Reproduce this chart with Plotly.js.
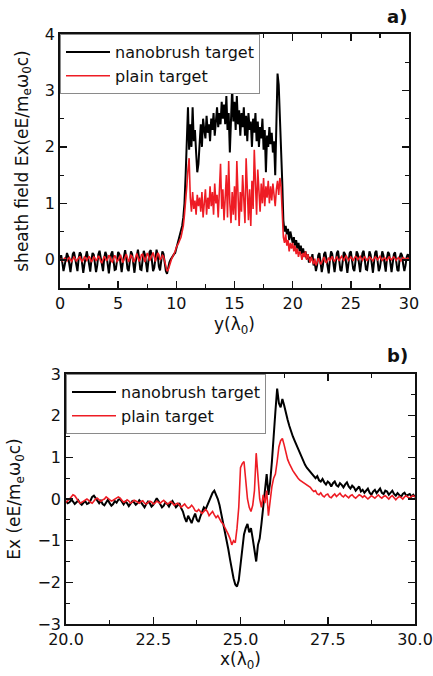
<!DOCTYPE html>
<html>
<head>
<meta charset="utf-8">
<script src="https://cdn.plot.ly/plotly-3.0.1.min.js"></script>
<style>html,body{margin:0;padding:0;background:#fff;}#chart{width:433px;height:676px;}</style>
</head>
<body>
<div id="chart"></div>
<script>
// ---------- Panel a: sheath field vs y (lambda0), sampled from y=0 to 30 every 0.1 ----------
const aStart = 0, aStep = 0.1;
const aNanobrush = [
 0.02,0.08,-0.05,-0.2,-0.1,0.05,0.12,0.06,-0.08,-0.22,
 -0.05,0.1,0.14,0.03,-0.15,-0.2,0.02,0.13,0.1,-0.06,
 -0.23,-0.08,0.08,0.15,0.05,-0.12,-0.21,0.0,0.12,0.09,
 -0.05,-0.22,-0.1,0.1,0.16,0.04,-0.15,-0.2,0.03,0.14,
 0.08,-0.08,-0.24,-0.06,0.1,0.15,0.02,-0.18,-0.17,0.05,
 0.14,0.1,-0.06,-0.22,-0.05,0.11,0.17,0.03,-0.16,-0.2,
 0.04,0.15,0.1,-0.08,-0.23,-0.04,0.12,0.18,0.02,-0.17,
 -0.18,0.06,0.16,0.09,-0.1,-0.22,-0.02,0.14,0.17,0.0,
 -0.2,-0.14,0.08,0.18,0.08,-0.12,-0.19,0.04,0.15,0.1,
 -0.08,-0.2,-0.25,-0.12,-0.05,0.0,0.04,0.08,0.1,0.12,
 0.2,0.3,0.35,0.45,0.5,0.6,0.75,1.0,1.5,2.1,
 2.7,1.95,2.4,2.0,2.7,2.1,2.3,1.9,1.55,1.7,
 2.2,2.4,2.0,2.5,2.3,2.15,2.55,2.25,2.4,2.1,
 2.5,2.3,2.6,2.2,2.45,2.7,2.35,2.6,2.4,2.8,
 2.5,2.75,2.4,2.9,2.3,2.6,1.9,2.5,3.05,2.45,
 2.8,2.3,2.9,2.4,2.65,2.2,2.6,2.35,2.7,2.2,
 2.55,2.1,2.6,2.3,2.45,2.0,2.5,2.25,2.6,2.1,
 2.45,2.0,2.35,2.15,2.5,1.95,2.3,1.55,2.2,2.0,
 2.35,2.05,2.25,1.9,2.1,1.5,2.4,3.3,3.1,2.6,
 2.2,1.4,0.7,0.5,0.6,0.45,0.55,0.35,0.5,0.4,
 0.3,0.4,0.25,0.35,0.2,0.3,0.15,0.25,0.1,0.2,
 0.05,0.15,0.02,0.1,-0.05,0.05,0.0,0.1,-0.1,-0.05,
 -0.2,-0.1,0.08,0.12,-0.05,-0.22,-0.1,0.1,0.14,0.0,
 -0.18,-0.24,0.0,0.15,0.1,-0.1,-0.22,-0.05,0.12,0.16,
 0.02,-0.18,-0.2,0.05,0.14,0.1,-0.08,-0.23,-0.06,0.12,
 0.15,0.03,-0.16,-0.2,0.04,0.15,0.1,-0.07,-0.22,-0.04,
 0.12,0.16,0.02,-0.17,-0.18,0.05,0.15,0.09,-0.1,-0.23,
 -0.03,0.13,0.16,0.0,-0.2,-0.14,0.07,0.15,0.08,-0.12,
 -0.21,0.02,0.14,0.1,-0.06,-0.22,-0.06,0.1,0.13,0.0,
 -0.18,-0.2,0.04,0.12,0.08,-0.08,-0.2,-0.1,0.05,0.1,
 0.02
];
const aPlain = [
 0.0,0.01,-0.02,0.0,0.03,0.01,-0.02,0.02,0.04,0.0,
 -0.03,0.01,0.05,0.02,-0.02,0.0,0.04,0.06,0.01,-0.03,
 0.0,0.05,0.03,-0.01,0.02,0.06,0.02,-0.04,0.0,0.05,
 0.03,-0.02,0.01,0.07,0.04,-0.03,-0.05,0.02,0.06,0.03,
 -0.02,0.01,0.08,0.05,-0.02,-0.04,0.03,0.08,0.04,-0.03,
 -0.01,0.06,0.09,0.02,-0.05,0.0,0.07,0.1,0.03,-0.04,
 0.02,0.08,0.06,-0.03,-0.02,0.06,0.11,0.05,-0.03,0.01,
 0.09,0.1,0.02,-0.04,0.04,0.12,0.08,-0.02,0.03,0.1,
 0.13,0.05,-0.03,0.05,0.12,0.09,0.0,0.02,0.08,0.06,
 -0.05,-0.15,-0.2,-0.18,-0.1,-0.03,0.02,0.06,0.1,0.15,
 0.22,0.25,0.3,0.35,0.4,0.5,0.6,0.8,1.0,1.3,
 1.6,1.8,1.1,0.85,1.2,0.9,1.05,0.8,1.15,0.95,
 1.1,0.85,1.2,0.75,1.0,1.25,0.8,1.1,0.9,1.3,
 0.95,1.2,0.8,1.35,1.0,1.15,0.75,1.4,1.7,0.9,
 1.25,0.7,1.1,1.5,0.75,1.75,1.0,0.65,1.2,0.8,
 1.3,0.7,1.75,1.0,0.6,1.2,0.85,1.5,0.9,0.65,
 1.8,1.0,0.7,1.25,0.6,1.4,0.9,1.95,1.3,0.8,
 1.6,1.05,0.85,1.35,1.0,1.45,0.95,1.3,1.1,1.4,
 1.0,1.3,1.05,1.35,1.1,0.95,1.25,1.4,1.15,1.45,
 1.3,0.8,0.4,0.3,0.45,0.25,0.35,0.15,0.3,0.2,
 0.3,0.15,0.25,0.1,0.2,0.05,0.15,0.1,0.0,0.12,
 0.05,0.15,0.0,0.1,0.02,-0.05,0.05,0.0,-0.08,0.02,
 -0.1,-0.05,0.03,-0.02,-0.08,-0.04,0.02,0.05,-0.03,-0.05,
 0.0,0.04,-0.02,0.03,0.06,0.0,-0.03,0.02,0.05,0.01,
 -0.02,0.03,0.06,0.02,-0.02,0.04,0.07,0.03,-0.01,0.02,
 0.05,0.02,-0.02,0.03,0.06,0.04,0.0,0.03,0.06,0.02,
 -0.01,0.03,0.05,0.02,-0.02,0.02,0.05,0.03,0.0,-0.02,
 0.02,0.05,0.03,0.0,0.03,0.06,0.02,-0.01,0.02,0.04,
 0.01,-0.02,0.03,0.05,0.02,0.0,0.03,0.05,0.02,-0.01,
 0.02,0.04,0.01,-0.02,0.02,0.04,0.02,0.0,0.02,0.03,
 0.0
];

// ---------- Panel b: Ex vs x (lambda0), sampled from x=20 to 30 every 0.05 ----------
const bStart = 20, bStep = 0.05;
const bNanobrush = [
 -0.05,-0.1,-0.08,-0.02,-0.06,-0.12,-0.08,-0.03,-0.1,-0.14,-0.09,-0.05,-0.12,-0.1,-0.04,0.05,0.08,0.02,-0.06,-0.1,
 -0.04,-0.12,-0.15,-0.08,-0.02,-0.1,-0.16,-0.12,-0.05,-0.09,-0.02,0.0,-0.08,-0.13,-0.06,-0.1,-0.17,-0.12,-0.05,-0.08,
 -0.14,-0.1,-0.03,-0.08,-0.15,-0.2,-0.12,-0.06,-0.1,-0.18,-0.14,-0.05,0.02,-0.05,-0.12,-0.2,-0.16,-0.08,-0.12,-0.18,
 -0.1,-0.05,-0.12,-0.2,-0.15,-0.1,-0.22,-0.3,-0.45,-0.55,-0.4,-0.5,-0.58,-0.45,-0.35,-0.5,-0.55,-0.42,-0.3,-0.2,
 -0.25,-0.15,-0.05,0.05,0.15,0.2,0.1,0.0,-0.15,-0.35,-0.55,-0.75,-0.95,-1.2,-1.45,-1.7,-1.9,-2.05,-2.1,-1.95,
 -1.6,-1.2,-0.85,-0.7,-0.6,-0.8,-0.7,-0.95,-1.2,-1.5,-1.1,-0.95,-0.6,-0.2,0.3,0.6,0.1,0.4,0.9,1.6,
 2.1,2.65,2.3,2.2,2.4,2.25,2.05,1.9,1.75,1.6,1.5,1.4,1.3,1.2,1.1,1.0,0.9,0.82,0.75,0.7,
 0.65,0.6,0.55,0.5,0.55,0.45,0.42,0.48,0.4,0.35,0.42,0.38,0.3,0.38,0.42,0.33,0.3,0.38,0.34,0.28,
 0.35,0.4,0.3,0.25,0.32,0.28,0.2,0.25,0.3,0.18,0.22,0.15,0.2,0.25,0.15,0.1,0.18,0.22,0.14,0.2,
 0.25,0.15,0.12,0.2,0.18,0.1,0.15,0.2,0.12,0.08,0.14,0.1,0.05,0.12,0.15,0.08,0.1,0.12,0.06,0.1,
 0.05
];
const bPlain = [
 -0.08,-0.05,0.0,0.05,0.1,0.08,0.02,-0.05,-0.1,-0.08,-0.05,-0.02,0.0,-0.03,-0.08,-0.1,-0.05,0.0,0.02,-0.03,
 -0.06,-0.02,0.0,0.05,0.02,-0.02,-0.05,-0.03,0.0,0.03,0.05,0.02,-0.04,-0.08,-0.06,-0.02,-0.05,-0.1,-0.07,-0.03,
 -0.05,-0.08,-0.1,-0.06,-0.04,-0.1,-0.12,-0.08,-0.05,-0.07,-0.12,-0.1,-0.05,-0.08,-0.1,-0.06,-0.03,-0.08,-0.12,-0.1,
 -0.06,-0.1,-0.15,-0.12,-0.1,-0.14,-0.2,-0.16,-0.12,-0.18,-0.22,-0.2,-0.15,-0.2,-0.28,-0.3,-0.25,-0.3,-0.35,-0.3,
 -0.25,-0.3,-0.4,-0.35,-0.3,-0.38,-0.45,-0.4,-0.48,-0.55,-0.6,-0.68,-0.75,-0.85,-0.95,-1.1,-1.0,-1.05,-0.7,-0.2,
 0.75,0.85,0.9,0.4,0.0,-0.2,-0.3,-0.15,0.2,1.1,0.5,0.0,-0.2,0.1,-0.1,0.2,-0.4,0.0,0.3,0.5,
 0.6,0.9,1.25,1.4,1.45,1.3,1.1,0.95,0.85,0.75,0.68,0.62,0.55,0.5,0.45,0.42,0.38,0.35,0.32,0.3,
 0.28,0.22,0.18,0.2,0.12,0.1,0.15,0.08,0.05,0.1,0.12,0.05,0.03,0.08,0.12,0.06,0.1,0.14,0.08,0.05,
 0.1,0.06,0.03,0.08,0.1,0.05,0.02,0.06,0.1,0.08,0.04,0.08,0.05,0.0,0.04,0.08,0.05,0.02,0.06,0.1,
 0.05,0.02,0.06,0.08,0.04,0.0,0.05,0.08,0.03,-0.02,0.03,0.06,0.04,0.0,0.05,0.08,0.04,0.02,0.06,0.08,
 0.05
];

const seriesNames = ['nanobrush target', 'plain target'];
const aXTicks = [0, 5, 10, 15, 20, 25, 30];
const bXTicks = [20, 22.5, 25, 27.5, 30];

function grid(start, step, n) {
  const out = [];
  for (let i = 0; i < n; i++) out.push(Math.round((start + i * step) * 1000) / 1000);
  return out;
}

// ---------- geometry (pixels) ----------
const W = 433, H = 676;
const M = {l: 60, r: 18, t: 34, b: 52};
const PW = W - M.l - M.r, PH = H - M.t - M.b;
const px = v => (v - M.l) / PW;
const py = v => (H - M.b - v) / PH;

const BLACK = '#000000', RED = '#ee1c24';
const FONT = 'DejaVu Sans, Arial, sans-serif';

const traces = [
  {x: grid(aStart, aStep, aNanobrush.length), y: aNanobrush, name: seriesNames[0], type: 'scatter', mode: 'lines',
   line: {color: BLACK, width: 2}, xaxis: 'x', yaxis: 'y', legend: 'legend'},
  {x: grid(aStart, aStep, aPlain.length), y: aPlain, name: seriesNames[1], type: 'scatter', mode: 'lines',
   line: {color: RED, width: 1.6}, xaxis: 'x', yaxis: 'y', legend: 'legend'},
  {x: grid(bStart, bStep, bNanobrush.length), y: bNanobrush, name: seriesNames[0], type: 'scatter', mode: 'lines',
   line: {color: BLACK, width: 2}, xaxis: 'x2', yaxis: 'y2', legend: 'legend2'},
  {x: grid(bStart, bStep, bPlain.length), y: bPlain, name: seriesNames[1], type: 'scatter', mode: 'lines',
   line: {color: RED, width: 1.6}, xaxis: 'x2', yaxis: 'y2', legend: 'legend2'}
];

const axBase = {
  showline: true, linecolor: '#111', linewidth: 1.8, mirror: 'ticks',
  ticks: 'inside', ticklen: 7, tickwidth: 1.5, tickcolor: '#111',
  showgrid: false, zeroline: false, tickfont: {size: 16, family: FONT, color: '#111'}
};

const legBase = {
  xanchor: 'left', yanchor: 'top', bgcolor: '#ffffff', bordercolor: '#8a8a8a', borderwidth: 1,
  font: {size: 16, family: FONT, color: '#111'}, itemwidth: 44, tracegroupgap: 0
};

const layout = {
  width: W, height: H, margin: M, paper_bgcolor: '#fff', plot_bgcolor: '#fff',
  font: {family: FONT, size: 16, color: '#111'},
  showlegend: true,
  xaxis: Object.assign({}, axBase, {
    domain: [px(60), px(409)], anchor: 'y', range: [0, 30], tickvals: aXTicks,
    minor: {dtick: 2.5, ticks: 'inside', ticklen: 4, tickwidth: 1.2, tickcolor: '#111'},
    title: {text: 'y(λ<sub>0</sub>)', font: {size: 17, family: FONT}, standoff: 6}
  }),
  yaxis: Object.assign({}, axBase, {
    domain: [py(288), py(34)], anchor: 'x', range: [-0.5, 4], tick0: 0, dtick: 1,
    minor: {dtick: 0.5, ticks: 'inside', ticklen: 4, tickwidth: 1.2, tickcolor: '#111'},
    title: {text: 'sheath field Ex(eE/m<sub>e</sub>ω<sub>0</sub>c)', font: {size: 17, family: FONT}, standoff: 12}
  }),
  xaxis2: Object.assign({}, axBase, {
    domain: [px(66), px(415)], anchor: 'y2', range: [20, 30], tickvals: bXTicks, tickformat: '.1f',
    minor: {dtick: 1.25, ticks: 'inside', ticklen: 4, tickwidth: 1.2, tickcolor: '#111'},
    title: {text: 'x(λ<sub>0</sub>)', font: {size: 17, family: FONT}, standoff: 4}
  }),
  yaxis2: Object.assign({}, axBase, {
    domain: [py(624), py(374)], anchor: 'x2', range: [-3, 3], tick0: 0, dtick: 1,
    minor: {dtick: 0.5, ticks: 'inside', ticklen: 4, tickwidth: 1.2, tickcolor: '#111'},
    title: {text: 'Ex (eE/m<sub>e</sub>ω<sub>0</sub>c)', font: {size: 17, family: FONT}, standoff: 12}
  }),
  legend: Object.assign({}, legBase, {x: px(60), y: py(34)}),
  legend2: Object.assign({}, legBase, {x: px(66), y: py(374)}),
  annotations: [
    {text: '<b>a)</b>', xref: 'paper', yref: 'paper', x: px(409), y: py(17), xanchor: 'right', yanchor: 'middle',
     showarrow: false, font: {size: 18, family: FONT, color: '#111'}},
    {text: '<b>b)</b>', xref: 'paper', yref: 'paper', x: px(410), y: py(355), xanchor: 'right', yanchor: 'middle',
     showarrow: false, font: {size: 18, family: FONT, color: '#111'}}
  ]
};

Plotly.newPlot('chart', traces, layout, {staticPlot: true, displayModeBar: false});
</script>
</body>
</html>
